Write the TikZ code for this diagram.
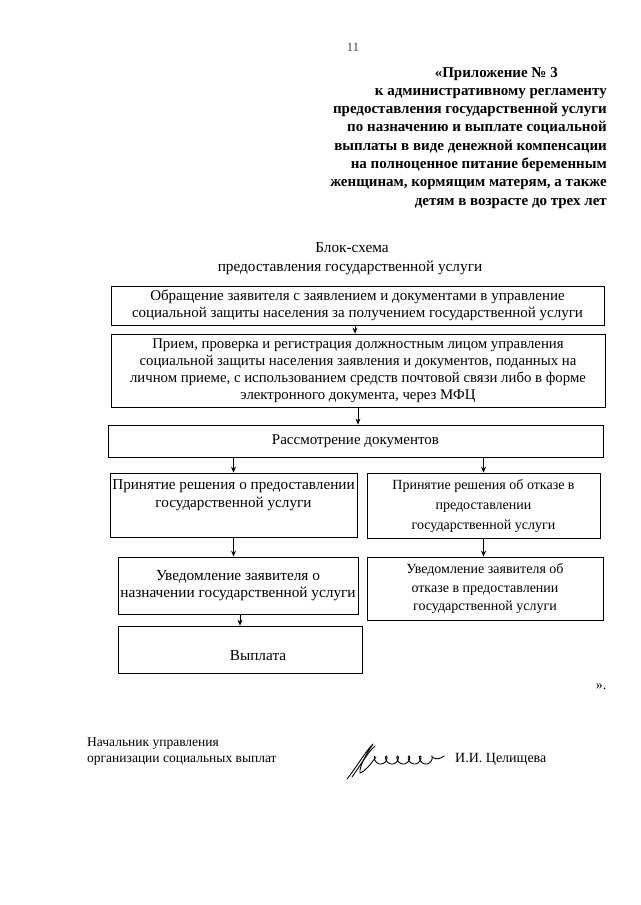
\documentclass[tikz,border=0pt]{standalone}
\usepackage{fontspec}
\setmainfont{Liberation Serif}
\usetikzlibrary{arrows.meta,calc}
\newcommand{\fs}[2]{\fontsize{#1}{#2}\selectfont}
\begin{document}
\begin{tikzpicture}[x=1pt,y=-1pt,
  box/.style={draw=black,line width=0.8pt,align=center,inner sep=0pt,font=\fs{15}{17}},
  arr/.style={-{Stealth[length=6pt,width=5pt]},line width=0.7pt},
  hdr/.style={font=\bfseries\fs{15}{18},inner sep=0pt,anchor=base east},
  txt/.style={font=\fs{15.3}{18},inner sep=0pt},
  sig/.style={line width=0.9pt,line cap=round,line join=round}]
\useasboundingbox[fill=white] (0,0) rectangle (640,905);

% page number
\node[txt,anchor=base,text=black!75,font=\fs{12.5}{14}] (pg) at (353,51) {11};

% header
\node[hdr] (h0) at (558,77) {«Приложение № 3};
\foreach \i/\t in {1/к административному регламенту,
  2/предоставления государственной услуги,
  3/по назначению и выплате социальной,
  4/выплаты в виде денежной компенсации,
  5/на полноценное питание беременным,
  6/женщинам{,} кормящим матерям{,} а также,
  7/детям в возрасте до трех лет}
  \node[hdr] (h\i) at (607,{77+18.3*\i}) {\t};

% title
\node[txt,anchor=base] (t1) at (352,252) {Блок-схема};
\node[txt,anchor=base] (t2) at (350,271) {предоставления государственной услуги};

% boxes
\node[box,minimum width=493pt,minimum height=39pt] (b1) at (357.5,305.5)
  {Обращение заявителя с заявлением и документами в управление\\
   социальной защиты населения за получением государственной услуги};
\node[box,minimum width=494pt,minimum height=73pt,font=\fs{14.8}{17}] (b2) at (358,370.5)
  {Прием, проверка и регистрация должностным лицом управления\\
   социальной защиты населения заявления и документов, поданных на\\
   личном приеме, с использованием средств почтовой связи либо в форме\\
   электронного документа, через МФЦ};
\node[box,minimum width=495pt,minimum height=32pt] (b3) at (355.5,441)
  {Рассмотрение документов};
\node[box,minimum width=247pt,minimum height=64pt,font=\fs{15.2}{18}] (b4) at (233.5,505)
  {Принятие решения о предоставлении\\ государственной услуги\\ \strut};
\node[box,minimum width=233pt,minimum height=65pt,font=\fs{14}{20}] (b5) at (483.5,505.5)
  {Принятие решения об отказе в\\ предоставлении\\ государственной услуги};
\node[box,minimum width=240pt,minimum height=57pt,font=\fs{15.3}{17}] (b6) at (238,585.5)
  {Уведомление заявителя о\\ назначении государственной услуги};
\node[box,minimum width=236pt,minimum height=63pt,font=\fs{14}{18.5}] (b7) at (485,588.5)
  {Уведомление заявителя об\\ отказе в предоставлении\\ государственной услуги};
\node[box,minimum width=244pt,minimum height=47pt,font=\fs{15.3}{17}] (b8) at (240,649.5)
  {\hspace*{36pt}\raisebox{-10.5pt}[0pt][0pt]{Выплата}};

% connectors
\draw[arr] ([xshift=-2.5pt]b1.south) -- ([xshift=-2.5pt]b1.south |- b2.north);
\draw[arr] (b2.south) -- (b2.south |- b3.north);
\draw[arr] (b3.south -| b4.north) -- (b4.north);
\draw[arr] (b3.south -| b5.north) -- (b5.north);
\draw[arr] (b4.south) -- (b4.south |- b6.north);
\draw[arr] (b5.south) -- (b5.south |- b7.north);
\draw[arr] ([xshift=2pt]b6.south) -- ([xshift=2pt]b6.south |- b8.north);

% closing quote
\node[txt,anchor=base,font=\fs{14}{16}] (q) at (601,689) {».};

% signature block
\node[txt,anchor=base west,font=\fs{13.5}{16}] (s1) at (87,746) {Начальник управления};
\node[txt,anchor=base west,font=\fs{13.5}{16}] (s2) at (87,762) {организации социальных выплат};
\node[txt,anchor=base west,font=\fs{14}{16}] (s3) at (455,762) {И.И. Целищева};

% handwritten signature
\draw[sig] (347,779) .. controls (356,768) and (365,752) .. (373,744)
  .. controls (367,753) and (359,766) .. (360,773)
  .. controls (366,771) and (372,762) .. (376,757);
\draw[sig] (352,777) .. controls (360,766) and (368,752) .. (375,746);
\draw[sig] plot[smooth,domain=0.4:31.4,samples=220]
  ({375+1.8*\x-3*sin(\x r)},{760-4*cos(\x r)});
\draw[sig] (432,757) .. controls (436,760) and (440,759) .. (444,756);
\end{tikzpicture}
\end{document}
